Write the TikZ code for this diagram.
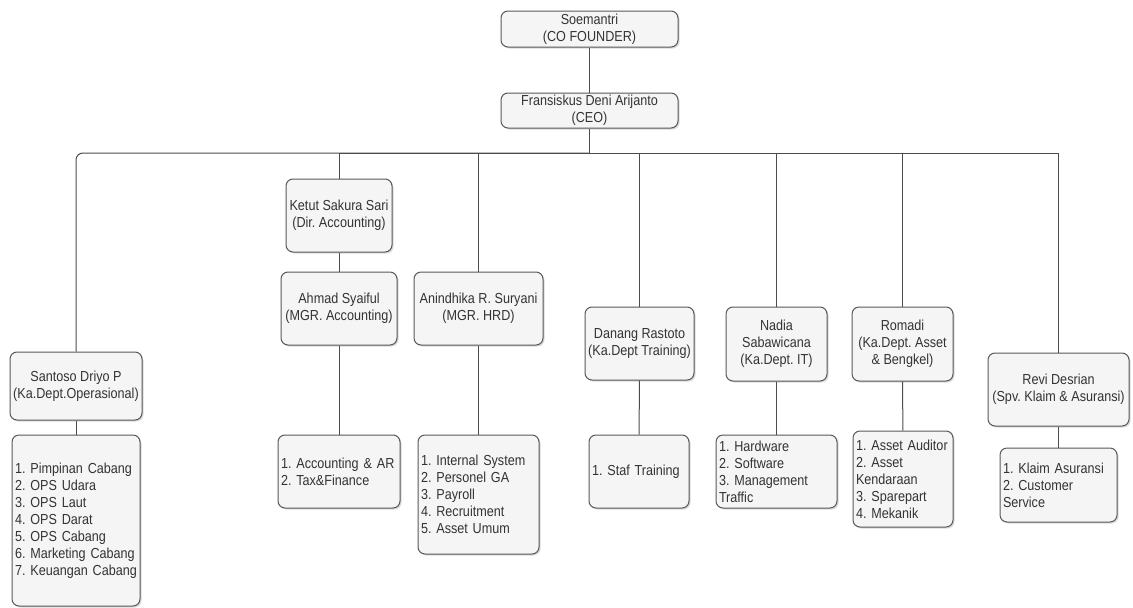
\documentclass[tikz,border=0pt]{standalone}
\usepackage{fontspec}
\setmainfont{Liberation Sans}[FakeStretch=0.87]
\usetikzlibrary{shadows}
\frenchspacing
\hyphenpenalty=10000
\begin{document}
\begin{tikzpicture}[x=1pt,y=-1pt,line width=1pt,
    box/.style={draw=black!65,fill=black!4,rounded corners=7pt,align=center,inner sep=0pt,text=black!80,
      font=\fontsize{14.5}{17}\selectfont,drop shadow={shadow xshift=1.5pt,shadow yshift=-1.5pt,fill=black!30}},
    list/.style={box,align=left,inner xsep=3pt},
    link/.style={draw=black!70,line width=1pt}]
   \useasboundingbox (0,0) rectangle (1133,608);
   % top
   \node[box,minimum width=177,minimum height=36] (founder) at (589.5,29) {Soemantri\\(CO FOUNDER)};
   \node[box,minimum width=177,minimum height=35] (ceo) at (589.5,110.5) {Fransiskus Deni Arijanto\\(CEO)};
   % heads
   \node[box,minimum width=132,minimum height=68] (ops) at (76,386) {Santoso Driyo P\\(Ka.Dept.Operasional)};
   \node[box,minimum width=106,minimum height=73] (dir) at (339,215.5) {Ketut Sakura Sari\\(Dir. Accounting)};
   \node[box,minimum width=116,minimum height=73] (acc) at (339,308.5) {Ahmad Syaiful\\(MGR. Accounting)};
   \node[box,minimum width=129,minimum height=73] (hrd) at (478.5,308.5) {Anindhika R. Suryani\\(MGR. HRD)};
   \node[box,minimum width=109,minimum height=73] (trn) at (639.5,343.5) {Danang Rastoto\\(Ka.Dept Training)};
   \node[box,minimum width=101,minimum height=74] (it) at (776.5,344) {Nadia\\Sabawicana\\(Ka.Dept. IT)};
   \node[box,minimum width=101,minimum height=74] (ast) at (902.5,344) {Romadi\\(Ka.Dept. Asset\\\& Bengkel)};
   \node[box,minimum width=141,minimum height=73] (klm) at (1058.5,389.5) {Revi Desrian\\(Spv. Klaim \& Asuransi)};
   % lists
   \node[list,text width=122,minimum height=171] (opsl) at (76,520.5) {1. Pimpinan Cabang\\2. OPS Udara\\3. OPS Laut\\4. OPS Darat\\5. OPS Cabang\\6. Marketing Cabang\\7. Keuangan Cabang};
   \node[list,text width=116,minimum height=73] (accl) at (339,471.5) {1. Accounting \& AR\\2. Tax\&Finance};
   \node[list,text width=115,minimum height=119] (hrdl) at (478.5,494.5) {1. Internal System\\2. Personel GA\\3. Payroll\\4. Recruitment\\5. Asset Umum};
   \node[list,text width=94,minimum height=73] (trnl) at (639,471.5) {1. Staf Training};
   \node[list,text width=115,minimum height=73] (itl) at (776.5,471.5) {1. Hardware\\2. Software\\3. Management\\Traffic};
   \node[list,text width=94,minimum height=96] (astl) at (903,479) {1. Asset Auditor\\2. Asset\\Kendaraan\\3. Sparepart\\4. Mekanik};
   \node[list,text width=111,minimum height=74] (klml) at (1058.5,485) {1. Klaim Asuransi\\2. Customer\\Service};
   % connectors
   \coordinate (bus) at (589.5,153);
   \path[link] (founder) edge (ceo);
   \path[link] (ceo) edge (bus);
   \draw[link,rounded corners=7pt] (bus) -| (ops);
   \draw[link] (bus) -| (klm);
   \draw[link] (bus) -| (dir);
   \draw[link] (bus) -| (hrd);
   \draw[link] (bus) -| (trn);
   \draw[link] (bus) -| (it);
   \draw[link] (bus) -| (ast);
   \path[link] (dir) edge (acc);
   \path[link] (ops) edge (opsl);
   \path[link] (acc) edge (accl);
   \path[link] (hrd) edge (hrdl);
   \path[link] (trn) edge (trnl);
   \path[link] (it) edge (itl);
   \path[link] (ast) edge (astl);
   \path[link] (klm) edge (klml);
\end{tikzpicture}
\end{document}
